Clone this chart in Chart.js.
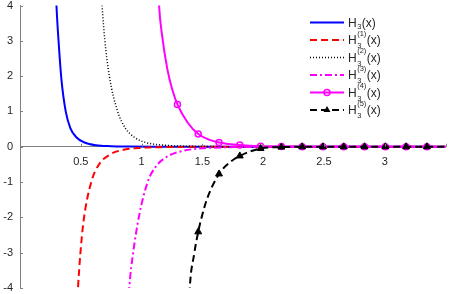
<!DOCTYPE html>
<html>
<head>
<meta charset="utf-8">
<script src="https://cdn.jsdelivr.net/npm/chart.js@4"></script>
<style>
html, body { margin: 0; padding: 0; background: #fff; }
canvas { display: block; }
</style>
</head>
<body>
<canvas id="chart" width="451" height="294"></canvas>
<script>
// Curves (x, y pairs, points past the edges get clipped)
const baseX = [0.29, 0.30, 0.321, 0.341, 0.376, 0.414, 0.463, 0.531, 0.626, 0.75, 0.9, 1.1, 3.5];
const baseY = [5.0, 4.0, 2.8, 1.9, 1.0, 0.53, 0.27, 0.12, 0.04, 0.015, 0.005, 0, 0];

const d1X = [0.468, 0.477, 0.496, 0.523, 0.586, 0.648, 0.735, 0.844, 1.0, 1.2, 1.5, 3.5];
const d1Y = [-4.6, -4.0, -3.05, -2.1, -1.0, -0.51, -0.23, -0.09, -0.03, -0.009, -0.002, 0];

const d2X = [0.665, 0.675, 0.697, 0.735, 0.803, 0.866, 0.94, 1.035, 1.2, 1.4, 1.7, 3.5];
const d2Y = [4.6, 4.0, 3.05, 2.0, 1.0, 0.53, 0.27, 0.12, 0.04, 0.012, 0.003, 0];

const d3X = [0.89, 0.899, 0.931, 0.98, 1.05, 1.12, 1.21, 1.35, 1.5, 1.7, 2.0, 3.5];
const d3Y = [-4.6, -4.0, -3.0, -1.95, -1.0, -0.55, -0.28, -0.11, -0.045, -0.015, -0.004, 0];

const d4X = [1.135, 1.144, 1.171, 1.212, 1.25, 1.295, 1.38, 1.466, 1.55, 1.637, 1.808, 1.979, 2.15, 2.4, 3.5];
const d4Y = [4.8, 4.0, 3.1, 2.2, 1.65, 1.2, 0.68, 0.36, 0.21, 0.12, 0.05, 0.015, 0.005, 0, 0];

const d5X = [1.39, 1.397, 1.432, 1.466, 1.5, 1.539, 1.637, 1.72, 1.808, 1.979, 2.15, 2.4, 3.5];
const d5Y = [-4.5, -3.96, -3.05, -2.41, -1.92, -1.47, -0.77, -0.46, -0.26, -0.05, -0.01, 0, 0];

// marker positions shared by the last two curves
const markX = [1.295, 1.466, 1.637, 1.808, 1.979, 2.15, 2.321, 2.492, 2.663, 2.834, 3.005, 3.176, 3.347];
const d4MarkY = [1.2, 0.36, 0.12, 0.05, 0.015, 0.005, 0, 0, 0, 0, 0, 0, 0];
const d5MarkY = [null, -2.41, -0.77, -0.26, -0.05, -0.01, 0, 0, 0, 0, 0, 0, 0];

const xTicks = [0.5, 1, 1.5, 2, 2.5, 3];
const legendSup = ['', '(1)', '(2)', '(3)', '(4)', '(5)'];

const colors = ['#0000ff', '#ff0000', '#000000', '#ff00ff', '#ff00ff', '#000000'];
const dashes = [[], [7, 4], [1, 2], [7, 3, 2, 3], [], [7, 4]];
const widths = [2, 2, 1.5, 2, 2, 2];
const FONT = '"Liberation Sans", Arial, Helvetica, sans-serif';
const AXIS = '#808080';

function toPoints(xs, ys) {
    return xs.map((x, i) => ({ x: x, y: ys[i] }));
}

function curve(xs, ys, i, order) {
    return {
        data: toPoints(xs, ys),
        showLine: true,
        borderColor: colors[i],
        borderWidth: widths[i],
        borderDash: dashes[i],
        pointRadius: 0,
        fill: false,
        cubicInterpolationMode: 'monotone',
        order: order
    };
}

const datasets = [
    curve(baseX, baseY, 0, 10),
    curve(d1X, d1Y, 1, 9),
    curve(d2X, d2Y, 2, 8),
    curve(d3X, d3Y, 3, 7),
    curve(d4X, d4Y, 4, 6),
    {
        data: toPoints(markX, d4MarkY),
        showLine: false,
        pointStyle: 'circle',
        pointRadius: 3,
        pointBorderWidth: 1.5,
        pointBorderColor: colors[4],
        pointBackgroundColor: 'rgba(0,0,0,0)',
        order: 5
    },
    curve(d5X, d5Y, 5, 4),
    {
        data: toPoints(markX, d5MarkY),
        showLine: false,
        pointStyle: 'triangle',
        pointRadius: 4,
        pointBorderWidth: 1,
        pointBorderColor: '#000',
        pointBackgroundColor: '#000',
        order: 3
    }
];

// small inward tick marks on both axes
const tickMarks = {
    id: 'tickMarks',
    afterDraw(chart) {
        const { ctx, scales: { x, y } } = chart;
        const y0 = y.getPixelForValue(0);
        ctx.save();
        ctx.strokeStyle = AXIS;
        ctx.lineWidth = 1;
        ctx.beginPath();
        for (let v = -4; v <= 4; v++) {
            const py = Math.round(y.getPixelForValue(v)) + 0.5;
            ctx.moveTo(x.left, py);
            ctx.lineTo(x.left + 3, py);
        }
        for (let v = 0.5; v <= 3.5; v += 0.5) {
            const px = Math.round(x.getPixelForValue(v)) + 0.5;
            ctx.moveTo(px, y0);
            ctx.lineTo(px, y0 - 3);
        }
        ctx.stroke();
        ctx.restore();
    }
};

// legend with sub/superscripts, drawn on the canvas
const texLegend = {
    id: 'texLegend',
    afterDraw(chart) {
        const ctx = chart.ctx;
        ctx.save();
        legendSup.forEach((sup, i) => {
            const y = 22.5 + i * 17.5;
            ctx.strokeStyle = colors[i];
            ctx.lineWidth = widths[i];
            ctx.setLineDash(dashes[i]);
            ctx.beginPath();
            ctx.moveTo(310, y);
            ctx.lineTo(344, y);
            ctx.stroke();
            ctx.setLineDash([]);
            if (i === 4) {
                ctx.lineWidth = 1.5;
                ctx.beginPath();
                ctx.arc(327, y, 3, 0, Math.PI * 2);
                ctx.stroke();
            }
            if (i === 5) {
                const r = 4;
                ctx.fillStyle = '#000';
                ctx.beginPath();
                ctx.moveTo(327, y - r);
                ctx.lineTo(327 + r * Math.sin(Math.PI * 2 / 3), y + r / 2);
                ctx.lineTo(327 - r * Math.sin(Math.PI * 2 / 3), y + r / 2);
                ctx.closePath();
                ctx.fill();
            }
            const base = y + 4;
            ctx.fillStyle = '#262626';
            ctx.textBaseline = 'alphabetic';
            ctx.textAlign = 'left';
            ctx.font = '12px ' + FONT;
            ctx.fillText('H', 348, base);
            let tx = 348.5 + ctx.measureText('H').width;
            ctx.font = '7.5px ' + FONT;
            ctx.fillText('3', tx, base + (sup ? 4 : 2.5));
            let w = ctx.measureText('3').width;
            if (sup) {
                ctx.fillText(sup, tx, base - 8.5);
                w = Math.max(w, ctx.measureText(sup).width);
            }
            tx += w + 0.5;
            ctx.font = '12px ' + FONT;
            ctx.fillText('(x)', tx, base);
        });
        ctx.restore();
    }
};

Chart.defaults.font.family = FONT;
Chart.defaults.font.size = 11;
Chart.defaults.color = '#262626';

new Chart(document.getElementById('chart'), {
    type: 'scatter',
    data: { datasets: datasets },
    plugins: [tickMarks, texLegend],
    options: {
        responsive: false,
        animation: false,
        events: [],
        layout: { padding: { left: 0, top: 4, right: 2.5, bottom: 6 } },
        plugins: { legend: { display: false }, tooltip: { enabled: false } },
        scales: {
            x: {
                type: 'linear',
                min: 0,
                max: 3.5,
                position: { y: 0 },
                grid: { display: false, drawTicks: false },
                border: { display: true, color: AXIS, width: 1 },
                ticks: {
                    stepSize: 0.5,
                    padding: 9,
                    maxRotation: 0,
                    autoSkip: false,
                    callback: v => xTicks.includes(v) ? String(v) : ''
                },
                afterFit: s => { s.paddingLeft = 0; s.paddingRight = 0; }
            },
            y: {
                min: -4,
                max: 4,
                grid: { display: false, drawTicks: false },
                border: { display: true, color: AXIS, width: 1 },
                ticks: { stepSize: 1, padding: 7 },
                afterFit: s => { s.width = 20; s.paddingTop = 0; s.paddingBottom = 0; }
            }
        }
    }
});
</script>
</body>
</html>
